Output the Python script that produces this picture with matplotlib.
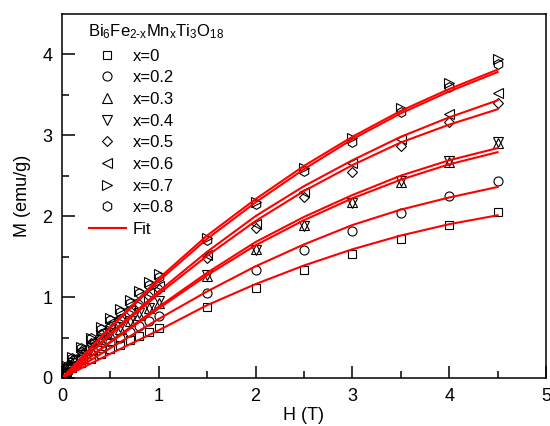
import matplotlib
matplotlib.use("Agg")
import matplotlib.pyplot as plt
from matplotlib.lines import Line2D

plt.rcParams['font.family'] = ['Liberation Sans', 'DejaVu Sans']
plt.rcParams['mathtext.fontset'] = 'custom'
plt.rcParams['mathtext.rm'] = 'Liberation Sans'
plt.rcParams['mathtext.it'] = 'Liberation Sans'

# field values (T)
H_data = [0.02, 0.05, 0.1, 0.2, 0.3, 0.4, 0.5, 0.6, 0.7, 0.8, 0.9, 1.0,
          1.5, 2.0, 2.5, 3.0, 3.5, 4.0, 4.5]
H_fit = [0, 0.5, 1.0, 1.5, 2.0, 2.5, 3.0, 3.5, 4.0, 4.5]

labels = ["x=0", "x=0.2", "x=0.3", "x=0.4", "x=0.5", "x=0.6", "x=0.7", "x=0.8"]
markers = ["s", "o", "^", "v", "D", "<", ">", "h"]
msizes = [5.5, 6.5, 7, 7, 5, 7, 7, 7]

# measured M (emu/g)
M_x0 = [0.03, 0.07, 0.12, 0.19, 0.24, 0.30, 0.36, 0.41, 0.47, 0.52, 0.57, 0.62,
        0.88, 1.11, 1.33, 1.53, 1.72, 1.89, 2.05]
M_x02 = [0.04, 0.09, 0.15, 0.23, 0.30, 0.37, 0.44, 0.50, 0.57, 0.64, 0.70, 0.76,
         1.05, 1.33, 1.58, 1.82, 2.04, 2.25, 2.43]
M_x03 = [0.05, 0.11, 0.19, 0.28, 0.36, 0.46, 0.54, 0.61, 0.70, 0.78, 0.86, 0.93,
         1.26, 1.59, 1.89, 2.17, 2.42, 2.67, 2.90]
M_x04 = [0.05, 0.11, 0.19, 0.29, 0.37, 0.47, 0.55, 0.63, 0.71, 0.80, 0.87, 0.95,
         1.27, 1.58, 1.88, 2.16, 2.43, 2.68, 2.91]
M_x05 = [0.05, 0.13, 0.22, 0.33, 0.43, 0.54, 0.64, 0.73, 0.83, 0.92, 1.01, 1.10,
         1.48, 1.85, 2.23, 2.54, 2.87, 3.16, 3.40]
M_x06 = [0.06, 0.14, 0.23, 0.34, 0.45, 0.56, 0.66, 0.75, 0.86, 0.96, 1.05, 1.14,
         1.52, 1.90, 2.30, 2.65, 2.95, 3.26, 3.52]
M_x07 = [0.06, 0.15, 0.26, 0.38, 0.50, 0.63, 0.74, 0.85, 0.96, 1.07, 1.18, 1.28,
         1.73, 2.18, 2.60, 2.97, 3.33, 3.64, 3.94]
M_x08 = [0.06, 0.15, 0.25, 0.37, 0.49, 0.61, 0.72, 0.82, 0.93, 1.05, 1.15, 1.25,
         1.71, 2.15, 2.56, 2.92, 3.29, 3.59, 3.88]

# fit curves
F_x0 = [0, 0.30, 0.59, 0.90, 1.16, 1.39, 1.59, 1.76, 1.90, 2.01]
F_x02 = [0, 0.37, 0.73, 1.07, 1.38, 1.65, 1.89, 2.08, 2.23, 2.36]
F_x03 = [0, 0.44, 0.86, 1.27, 1.64, 1.95, 2.22, 2.45, 2.64, 2.79]
F_x04 = [0, 0.45, 0.88, 1.30, 1.68, 1.99, 2.26, 2.50, 2.69, 2.84]
F_x05 = [0, 0.53, 1.04, 1.51, 1.94, 2.31, 2.63, 2.91, 3.13, 3.32]
F_x06 = [0, 0.55, 1.07, 1.56, 2.00, 2.37, 2.69, 2.98, 3.22, 3.43]
F_x07 = [0, 0.63, 1.23, 1.76, 2.21, 2.62, 2.98, 3.30, 3.57, 3.81]
F_x08 = [0, 0.62, 1.20, 1.72, 2.17, 2.58, 2.95, 3.27, 3.54, 3.78]

data = [M_x0, M_x02, M_x03, M_x04, M_x05, M_x06, M_x07, M_x08]
fits = [F_x0, F_x02, F_x03, F_x04, F_x05, F_x06, F_x07, F_x08]

fig = plt.figure(figsize=(5.5, 4.26), dpi=100)
ax = fig.add_axes([0.1127, 0.1127, 0.88, 0.855])

for M, mk, sz in zip(data, markers, msizes):
    ax.plot(H_data, M, linestyle="none", marker=mk, ms=sz, mfc="none",
            mec="black", mew=0.8)
for F in fits:
    ax.plot(H_fit, F, color="red", lw=1.5)

ax.set_xlim(0, 5)
ax.set_ylim(0, 4.5)
ax.set_xticks([0, 1, 2, 3, 4, 5])
ax.set_xticks([0.5, 1.5, 2.5, 3.5, 4.5], minor=True)
ax.set_yticks([0, 1, 2, 3, 4])
ax.set_yticks([0.5, 1.5, 2.5, 3.5], minor=True)
ax.tick_params(which="both", direction="in", top=False, right=False,
               width=1.1, labelsize=13)
ax.tick_params(which="major", length=9, pad=7)
ax.tick_params(which="minor", length=5)
for s in ax.spines.values():
    s.set_linewidth(1.1)

ax.set_xlabel("H (T)", fontsize=13, labelpad=2)
ax.set_ylabel("M (emu/g)", fontsize=13, labelpad=8)

# legend title as separate text
ax.text(0.054, 0.939, r"Bi$_6$Fe$_{\text{2-x}}$Mn$_\mathrm{x}$Ti$_3$O$_{18}$",
        transform=ax.transAxes, fontsize=12, ha="left", va="baseline")

handles = [Line2D([], [], linestyle="none", marker=mk, ms=sz, mfc="none",
                  mec="black", mew=0.8) for mk, sz in zip(markers, msizes)]
handles.append(Line2D([], [], color="red", lw=1.5))
ax.legend(handles, labels + ["Fit"],
          frameon=False, loc="upper left", bbox_to_anchor=(0.035, 0.932),
          fontsize=12, labelspacing=0.4,
          handlelength=2.2, handletextpad=0.45, borderaxespad=0.2)

fig.savefig("out.png", dpi=100)
